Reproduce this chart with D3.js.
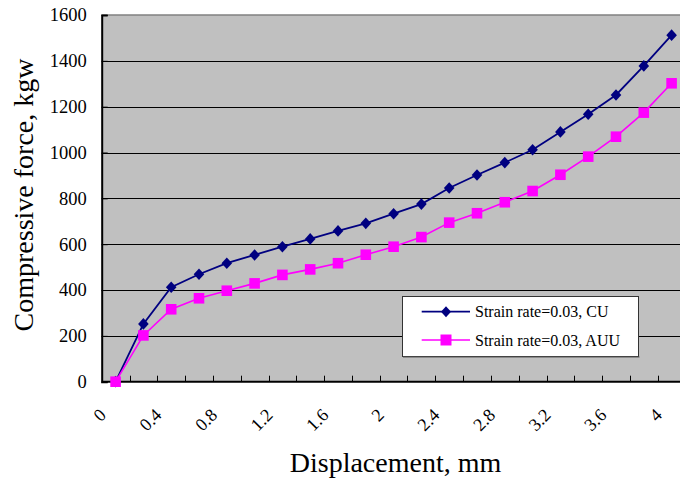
<!DOCTYPE html>
<html>
<head>
<meta charset="utf-8">
<script src="https://cdn.jsdelivr.net/npm/d3@7"></script>
<style>
  html, body { margin: 0; padding: 0; background: #fff; }
  svg { display: block; font-family: "Liberation Serif", "Times New Roman", serif; }
</style>
</head>
<body>
<svg id="chart" width="680" height="482"></svg>
<script>
// Displacement categories (mm)
const categories = ["0", "0.2", "0.4", "0.6", "0.8", "1", "1.2", "1.4", "1.6", "1.8", "2",
                    "2.2", "2.4", "2.6", "2.8", "3", "3.2", "3.4", "3.6", "3.8", "4"];
// Every other category carries a label
const xTickLabels = ["0", "0.4", "0.8", "1.2", "1.6", "2", "2.4", "2.8", "3.2", "3.6", "4"];
const yTicks = [0, 200, 400, 600, 800, 1000, 1200, 1400, 1600];

// Compressive force (kgw)
const seriesCU  = [0, 252, 412, 469, 517, 553, 589, 623, 658, 691, 733,
                   775, 845, 902, 956, 1012, 1090, 1167, 1251, 1378, 1512];
const seriesAUU = [0, 202, 316, 364, 397, 429, 466, 490, 517, 554, 589,
                   631, 694, 735, 783, 832, 903, 982, 1069, 1174, 1302];

const seriesNames = ["Strain rate=0.03, CU", "Strain rate=0.03, AUU"];
const seriesColors = ["#000080", "#FF00FF"];

const svg = d3.select("#chart");

const plot = { left: 101.7, top: 15, right: 685.5, bottom: 381.7 };

const x = d3.scaleBand().domain(categories).range([plot.left, plot.right]).padding(0);
const y = d3.scaleLinear().domain([0, 1600]).range([plot.bottom, plot.top]);
const cx = c => x(c) + x.bandwidth() / 2;

// plot background
svg.append("rect")
  .attr("x", plot.left).attr("y", plot.top)
  .attr("width", plot.right - plot.left).attr("height", plot.bottom - plot.top)
  .attr("fill", "#C0C0C0");

// horizontal gridlines
svg.append("g").selectAll("line")
  .data(yTicks.filter(v => v > 0 && v < 1600))
  .join("line")
  .attr("x1", plot.left).attr("x2", plot.right)
  .attr("y1", d => Math.round(y(d)) + 0.5).attr("y2", d => Math.round(y(d)) + 0.5)
  .attr("stroke", "#000").attr("stroke-width", 1);

// top border of plot
svg.append("line")
  .attr("x1", plot.left).attr("x2", plot.right)
  .attr("y1", y(1600)).attr("y2", y(1600))
  .attr("stroke", "#808080").attr("stroke-width", 1.5);

// y axis
const yAxis = d3.axisLeft(y).tickValues(yTicks).tickSize(-6).tickPadding(15).tickFormat(d3.format("d"));
const gy = svg.append("g").attr("transform", `translate(${plot.left},0)`).call(yAxis);
gy.attr("font-family", null);
gy.select(".domain").attr("stroke", "#000").attr("stroke-width", 2);
gy.selectAll(".tick line").attr("stroke", "#000");
gy.selectAll(".tick text")
  .attr("font-family", "'Liberation Serif', 'Times New Roman', serif")
  .attr("font-size", 18.5).attr("fill", "#000");

// x axis line
svg.append("line")
  .attr("x1", plot.left).attr("x2", plot.right)
  .attr("y1", plot.bottom).attr("y2", plot.bottom)
  .attr("stroke", "#000").attr("stroke-width", 2);

// category tick marks on band boundaries, pointing inward
svg.append("g").selectAll("line")
  .data(categories.slice(1))
  .join("line")
  .attr("x1", d => Math.round(x(d)) + 0.5).attr("x2", d => Math.round(x(d)) + 0.5)
  .attr("y1", plot.bottom).attr("y2", plot.bottom - 6)
  .attr("stroke", "#000").attr("stroke-width", 1);

// x tick labels, rotated
const xAxis = d3.axisBottom(x).tickValues(xTickLabels).tickSize(0).tickPadding(0);
const gx = svg.append("g").attr("transform", `translate(0,${plot.bottom})`).call(xAxis);
gx.attr("font-family", null);
gx.select(".domain").remove();
gx.selectAll(".tick text")
  .attr("font-family", "'Liberation Serif', 'Times New Roman', serif")
  .attr("font-size", 18).attr("fill", "#000")
  .attr("text-anchor", "end")
  .attr("dy", null)
  .attr("y", 0)
  .attr("transform", "translate(-8.5,34.5) rotate(-45)");

// axis titles
svg.append("text")
  .attr("x", 395.5).attr("y", 471.5)
  .attr("text-anchor", "middle")
  .attr("font-size", 28)
  .text("Displacement, mm");

svg.append("text")
  .attr("transform", "translate(33,195) rotate(-90)")
  .attr("text-anchor", "middle")
  .attr("font-size", 28)
  .text("Compressive force, kgw");

// series
const diamond = (s) => `M0,${-s * 1.1}L${s},0L0,${s * 1.1}L${-s},0Z`;
const square = (s) => `M${-s},${-s}H${s}V${s}H${-s}Z`;
const markers = [diamond(5.3), square(5.3)];

const line = d3.line().x((d, i) => cx(categories[i])).y(d => y(d));
[seriesCU, seriesAUU].forEach((vals, k) => {
  svg.append("path")
    .datum(vals)
    .attr("d", line)
    .attr("fill", "none")
    .attr("stroke", seriesColors[k])
    .attr("stroke-width", k === 0 ? 1.8 : 1.6);
});
[seriesCU, seriesAUU].forEach((vals, k) => {
  svg.append("g").selectAll("path")
    .data(vals)
    .join("path")
    .attr("transform", (d, i) => `translate(${cx(categories[i])},${y(d)})`)
    .attr("d", markers[k])
    .attr("fill", seriesColors[k]);
});

// legend
const lg = svg.append("g");
lg.append("rect")
  .attr("x", 402.5).attr("y", 296.5).attr("width", 236).attr("height", 60)
  .attr("fill", "#fff").attr("stroke", "#333").attr("stroke-width", 1);
lg.append("line")
  .attr("x1", 403).attr("x2", 639.5).attr("y1", 357).attr("y2", 357)
  .attr("stroke", "#555").attr("stroke-width", 1);
const rowsY = [311.7, 340];
seriesNames.forEach((name, k) => {
  const g = lg.append("g").attr("transform", `translate(0,${rowsY[k]})`);
  g.append("line").attr("x1", 421.7).attr("x2", 470).attr("y1", 0).attr("y2", 0)
    .attr("stroke", seriesColors[k]).attr("stroke-width", k === 0 ? 1.8 : 1.6);
  g.append("path").attr("transform", "translate(446,0)")
    .attr("d", k === 0 ? diamond(5) : square(5.5)).attr("fill", seriesColors[k]);
  g.append("text").attr("x", 475).attr("y", 0).attr("dy", "0.35em")
    .attr("font-size", 16).attr("fill", "#000").text(name);
});
</script>
</body>
</html>
